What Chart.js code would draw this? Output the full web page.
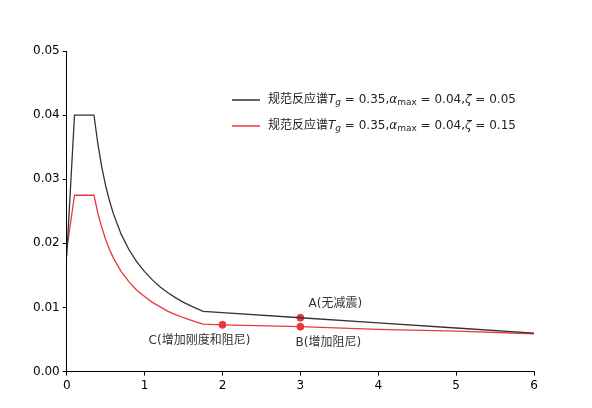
<!DOCTYPE html>
<html><head><meta charset="utf-8">
<script src="https://cdn.jsdelivr.net/npm/chart.js@4/dist/chart.umd.min.js"></script>
<style>html,body{margin:0;padding:0;background:#fff}</style>
</head><body>
<div style="width:592px;height:408px"><canvas id="c"></canvas></div>
<script>
const periods = [0,0.1,0.35,0.4,0.45,0.5,0.55,0.6,0.7,0.8,0.9,1.0,1.1,1.2,1.3,1.4,1.5,1.6,1.75,2,3,4,5,6];
const alphaDamp05 = [0.018,0.04,0.04,0.0355,0.0319,0.029,0.0266,0.0246,0.0214,0.019,0.0171,0.0156,0.0143,0.0132,0.0123,0.0115,0.0108,0.0102,0.0094,0.0092,0.0084,0.0076,0.0068,0.0060];
const alphaDamp15 = [0.019,0.0275,0.0275,0.0247,0.0225,0.0206,0.019,0.0177,0.0156,0.014,0.0127,0.0117,0.0108,0.0101,0.0094,0.0089,0.0084,0.008,0.0074,0.0073,0.0070,0.0066,0.0063,0.0059];
const markX = [3,3,2];
const markY = [0.0084,0.0070,0.0073];
const markLabels = ['A(无减震)','B(增加阻尼)','C(增加刚度和阻尼)'];
const labelOffsets = [[35,-14],[28,16],[-23,16]];
const legendZeta = ['0.05','0.15'];
const xTicks = [0,1,2,3,4,5,6];

const FONT = '"DejaVu Sans","Noto Sans CJK SC",sans-serif';
const pts = (ys)=>periods.map((x,i)=>({x,y:ys[i]}));

const overlay = {
  id:'overlay',
  afterDatasetsDraw(chart){
    const {ctx,scales:{x,y}} = chart;
    ctx.save();
    ctx.fillStyle='#333'; ctx.font='12px '+FONT; ctx.textAlign='center'; ctx.textBaseline='middle';
    markX.forEach((mx,i)=>{
      ctx.fillText(markLabels[i], x.getPixelForValue(mx)+labelOffsets[i][0], y.getPixelForValue(markY[i])+labelOffsets[i][1]);
    });
    const colors=['#333','#e8383d'];
    legendZeta.forEach((z,i)=>{
      const ly=100+i*26, lx=232;
      ctx.strokeStyle=colors[i]; ctx.lineWidth=1.5;
      ctx.beginPath(); ctx.moveTo(lx,ly); ctx.lineTo(lx+28,ly); ctx.stroke();
      let cx=lx+36; ctx.textAlign='left'; ctx.fillStyle='#222';
      const seg=(t,f,dy=0)=>{ctx.font=f; ctx.fillText(t,cx,ly+dy); cx+=ctx.measureText(t).width;};
      seg('规范反应谱','12px '+FONT);
      seg('T','italic 12px '+FONT);
      seg('g','italic 9px '+FONT,3);
      seg(' = 0.35,','12px '+FONT);
      seg('α','italic 12px '+FONT);
      seg('max','9px '+FONT,3);
      seg(' = 0.04,','12px '+FONT);
      seg('ζ','italic 12px '+FONT);
      seg(' = '+z,'12px '+FONT);
    });
    ctx.restore();
  }
};

const gridOpt = {display:true,drawOnChartArea:false,drawTicks:true,tickLength:4,color:'#000'};
new Chart(document.getElementById('c'),{
  type:'scatter',
  data:{datasets:[
    {data:pts(alphaDamp05),showLine:true,borderColor:'#333',borderWidth:1.3,pointRadius:0,tension:0},
    {data:pts(alphaDamp15),showLine:true,borderColor:'#e8383d',borderWidth:1.3,pointRadius:0,tension:0},
    {data:markX.map((x,i)=>({x,y:markY[i]})),showLine:false,pointRadius:3.5,backgroundColor:'#e8383d',borderColor:'#e8383d'}
  ]},
  options:{
    responsive:true,maintainAspectRatio:false,animation:false,
    layout:{padding:{left:30,right:58,top:51,bottom:12}},
    plugins:{legend:{display:false},tooltip:{enabled:false}},
    scales:{
      x:{type:'linear',min:0,max:6,grid:gridOpt,border:{color:'#000'},
         afterBuildTicks:(s)=>{s.ticks=xTicks.map(v=>({value:v}));},
         ticks:{color:'#000',font:{size:12,family:FONT},maxRotation:0}},
      y:{min:0,max:0.05,grid:gridOpt,border:{color:'#000'},
         ticks:{stepSize:0.01,color:'#000',font:{size:12,family:FONT},callback:v=>v.toFixed(2)}}
    }
  },
  plugins:[overlay]
});
</script>
</body></html>
